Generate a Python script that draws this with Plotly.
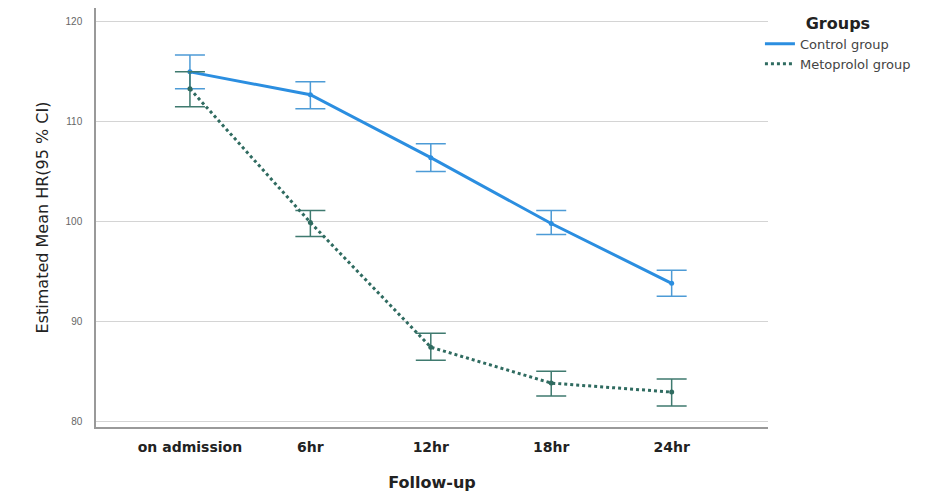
import plotly.graph_objects as go

categories = ["on admission", "6hr", "12hr", "18hr", "24hr"]

control_mean = [115.0, 112.7, 106.4, 99.8, 93.8]
control_upper = [116.7, 114.0, 107.8, 101.1, 95.1]
control_lower = [113.3, 111.3, 105.0, 98.7, 92.5]

meto_mean = [113.3, 99.9, 87.4, 83.8, 82.9]
meto_upper = [115.0, 101.1, 88.8, 85.0, 84.2]
meto_lower = [111.5, 98.5, 86.1, 82.5, 81.5]

y_ticks = [80, 90, 100, 110, 120]

xi = list(range(len(categories)))

CTRL = "#2b8ee0"
CTRL_ERR = "#4d9bd6"
META = "#2f6b60"
META_ERR = "#3f7a6f"

fig = go.Figure()

fig.add_trace(go.Scatter(
    x=xi, y=control_mean, name="Control group", mode="lines+markers",
    line=dict(color=CTRL, width=3),
    marker=dict(size=5, color=CTRL),
    showlegend=False,
    error_y=dict(type="data", symmetric=False,
                 array=[u - m for u, m in zip(control_upper, control_mean)],
                 arrayminus=[m - l for m, l in zip(control_mean, control_lower)],
                 color=CTRL_ERR, thickness=1.5, width=15),
))

fig.add_trace(go.Scatter(
    x=xi, y=meto_mean, name="Metoprolol group", mode="lines+markers",
    line=dict(color=META, width=3, dash="dot"),
    marker=dict(size=5, color=META),
    showlegend=False,
    error_y=dict(type="data", symmetric=False,
                 array=[u - m for u, m in zip(meto_upper, meto_mean)],
                 arrayminus=[m - l for m, l in zip(meto_mean, meto_lower)],
                 color=META_ERR, thickness=1.5, width=15),
))

# legend entries (line only)
fig.add_trace(go.Scatter(x=[None], y=[None], name="Control group", mode="lines",
                         line=dict(color=CTRL, width=3)))
fig.add_trace(go.Scatter(x=[None], y=[None], name="Metoprolol group", mode="lines",
                         line=dict(color=META, width=3, dash="dot")))

FONT = "DejaVu Sans, Liberation Sans, sans-serif"

fig.update_layout(
    width=933, height=487,
    margin=dict(l=88, r=173, t=0, b=68),
    paper_bgcolor="white", plot_bgcolor="white",
    font=dict(family=FONT, color="#222"),
    showlegend=True,
    legend=dict(
        title=dict(text="Groups", font=dict(size=16, color="#222", weight="bold"),
                   side="top center"),
        x=0.988, y=1.0, xanchor="left", yanchor="top",
        font=dict(size=13, color="#444"),
        bgcolor="rgba(0,0,0,0)",
        itemwidth=30,
        tracegroupgap=0,
    ),
    xaxis=dict(
        range=[-0.78, 4.8],
        tickmode="array", tickvals=xi, ticktext=categories,
        tickfont=dict(size=14, color="#222", family=FONT, weight="bold"),
        showgrid=False, zeroline=False,
        showline=True, linecolor="#999", linewidth=1.5,
        ticks="",
        ticklabelstandoff=6,
        title=dict(text="Follow-up", font=dict(size=16, color="#222", family=FONT, weight="bold"),
                   standoff=23),
    ),
    yaxis=dict(
        range=[79.4, 121.4],
        tickmode="array", tickvals=y_ticks,
        tickfont=dict(size=10, color="#666", family="Liberation Sans, Arial, sans-serif"),
        showgrid=True, gridcolor="#d4d4d4", gridwidth=1,
        zeroline=False,
        showline=True, linecolor="#999", linewidth=1.5,
        ticks="",
        ticklabelstandoff=10,
        title=dict(text="Estimated Mean HR(95 % CI)", font=dict(size=16, color="#222", family=FONT),
                   standoff=13),
    ),
)

fig.write_html("out.html")
